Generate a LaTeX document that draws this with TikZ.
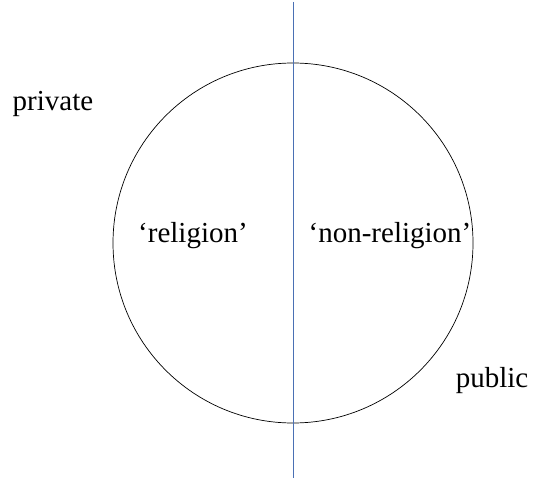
\documentclass[tikz,border=0pt]{standalone}
\usepackage{fontspec}
\setmainfont{Liberation Serif}
\definecolor{divider}{RGB}{74,112,180}
\begin{document}
\begin{tikzpicture}[x=1pt,y=-1pt,font=\fontsize{29}{34}\selectfont]
    \tikzstyle{label}=[inner sep=0pt,anchor=base]
    \useasboundingbox (0,0) rectangle (534,478);

    % the sphere and the dividing line
    \node[circle,draw=black,line width=0.7pt,minimum size=360pt,inner sep=0pt] (sphere) at (293,243) {};
    \coordinate (top) at (293,2);
    \coordinate (bottom) at (293,478);
    \draw[divider,line width=0.6pt] (top) -- (bottom);

    % labels
    \node[label] (private) at (53,111) {private};
    \node[label] (religion) at (193,242) {‘religion’};
    \node[label] (nonreligion) at (390,242) {‘non-religion’};
    \node[label] (public) at (492,387) {public};
\end{tikzpicture}
\end{document}
